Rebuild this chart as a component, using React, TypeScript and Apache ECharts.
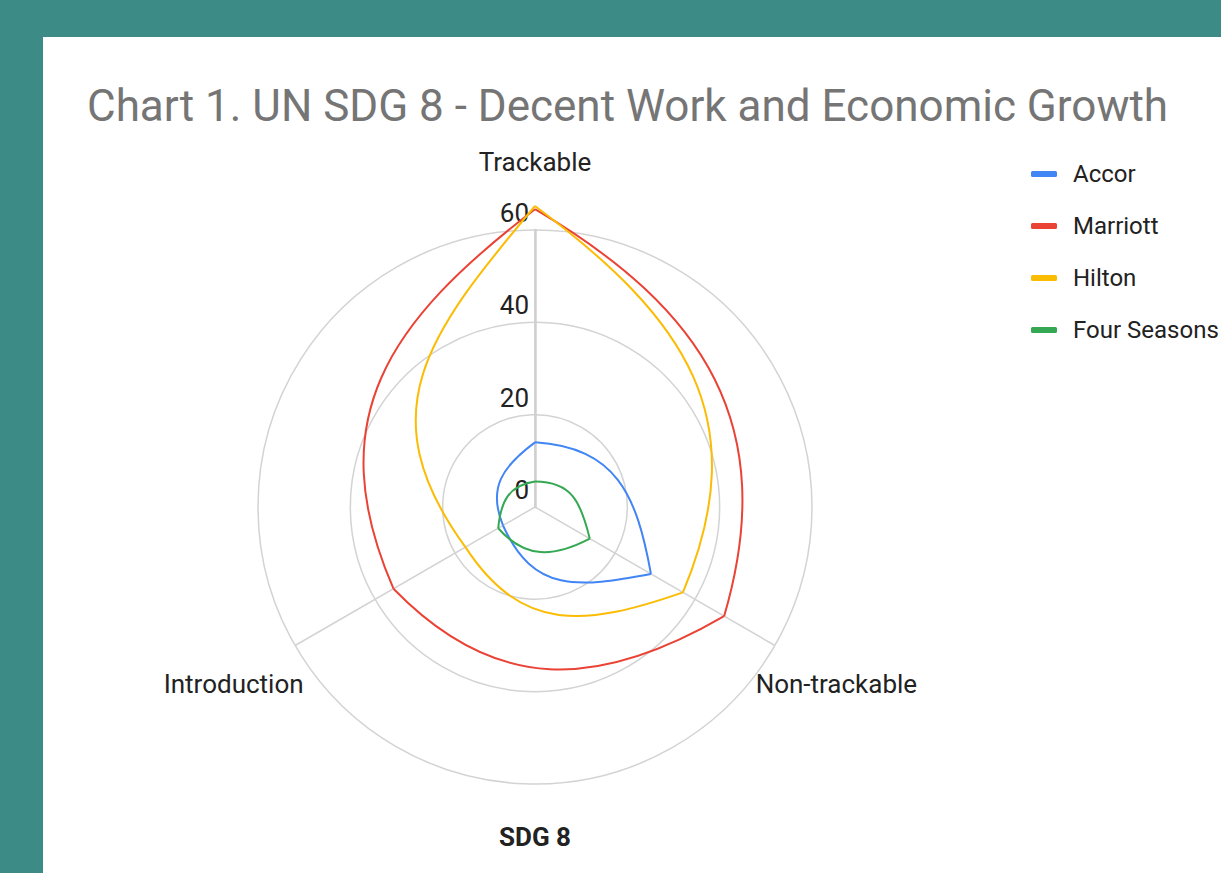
import React, { useEffect, useRef } from "react";
import * as echarts from "echarts";

// ---- data ----
const categories = ["Trackable", "Non-trackable", "Introduction"];
const seriesNames = ["Accor", "Marriott", "Hilton", "Four Seasons"];
const accor = [14, 29, 8];
const marriott = [64.5, 47.3, 35.4];
const hilton = [65.2, 37, 17.4];
const fourSeasons = [5.5, 13.7, 9.2];
const radiusMin = 0;
const radiusMax = 60;
const radiusStep = 20;
const axisTitle = "SDG 8";
const chartTitle = "Chart 1. UN SDG 8 - Decent Work and Economic Growth";

const seriesValues = [accor, marriott, hilton, fourSeasons];
const colors = ["#4285f4", "#ea4335", "#fbbc04", "#34a853"];

// ---- layout ----
const CX = 492;
const CY = 470;
const R = 277;
const LABEL_R = 348;
const LABEL_DY = 3;
const FONT = "Roboto, 'Noto Sans', Arial, sans-serif";
const DEG = Math.PI / 180;

// curve styling: each edge is a cubic bezier whose end tangents are turned
// outward from the chord (more at the end closer to the centre)
function edgeAngle(rEnd: number, rOther: number) {
  const ratio = Math.max(rEnd, 1e-3) / Math.max(rOther, 1e-3);
  return (38 - 11 * Math.tanh(Math.log(ratio))) * DEG;
}

function makeRenderItem(color: string) {
  return (params: any, api: any) => {
    const n = params.dataInsideLength;
    const i = params.dataIndexInside;
    const j = (i + 1) % n;
    const a = api.coord([api.value(0, i), api.value(1, i)]);
    const b = api.coord([api.value(0, j), api.value(1, j)]);
    const o = api.coord([0, api.value(1, i)]);
    const ra = Math.hypot(a[0] - o[0], a[1] - o[1]);
    const rb = Math.hypot(b[0] - o[0], b[1] - o[1]);
    const dx = b[0] - a[0];
    const dy = b[1] - a[1];
    const len = Math.hypot(dx, dy) || 1;
    const ux = dx / len;
    const uy = dy / len;
    let nx = uy;
    let ny = -ux;
    const mx = (a[0] + b[0]) / 2 - o[0];
    const my = (a[1] + b[1]) / 2 - o[1];
    if (nx * mx + ny * my < 0) {
      nx = -nx;
      ny = -ny;
    }
    const da = edgeAngle(ra, rb);
    const db = edgeAngle(rb, ra);
    const L = (0.42 + 0.07 * Math.abs(Math.tanh(Math.log(Math.max(ra, 1e-3) / Math.max(rb, 1e-3))))) * len;
    const c1x = a[0] + L * (Math.cos(da) * ux + Math.sin(da) * nx);
    const c1y = a[1] + L * (Math.cos(da) * uy + Math.sin(da) * ny);
    const c2x = b[0] - L * (Math.cos(db) * ux - Math.sin(db) * nx);
    const c2y = b[1] - L * (Math.cos(db) * uy - Math.sin(db) * ny);
    return {
      type: "bezierCurve",
      shape: {
        x1: a[0],
        y1: a[1],
        x2: b[0],
        y2: b[1],
        cpx1: c1x,
        cpy1: c1y,
        cpx2: c2x,
        cpy2: c2y,
      },
      style: { stroke: color, fill: "none", lineWidth: 2 },
    };
  };
}

export default function App() {
  const ref = useRef<HTMLDivElement>(null);

  useEffect(() => {
    if (!ref.current) return;
    const chart = echarts.init(ref.current, undefined, { renderer: "svg" });

    const n = categories.length;
    const labelTexts = categories.map((name, k) => {
      const ang = (90 - (360 / n) * k) * DEG;
      return {
        type: "text",
        x: CX + LABEL_R * Math.cos(ang),
        y: CY - LABEL_R * Math.sin(ang) + LABEL_DY,
        style: {
          text: name,
          fontSize: 26,
          fontFamily: FONT,
          fill: "#222222",
          align: "center",
          verticalAlign: "middle",
        },
      };
    });

    chart.setOption({
      animation: false,
      backgroundColor: "#ffffff",
      title: {
        text: chartTitle,
        left: 39,
        top: 42,
        textStyle: {
          fontSize: 44,
          fontWeight: "normal",
          color: "#757575",
          fontFamily: FONT,
        },
      },
      legend: {
        data: seriesNames,
        orient: "vertical",
        left: 988,
        top: 125,
        padding: 0,
        itemWidth: 26,
        itemHeight: 6,
        itemGap: 28,
        icon: "roundRect",
        textStyle: {
          fontSize: 24,
          color: "#222222",
          fontFamily: FONT,
          padding: [0, 0, 0, 11],
        },
      },
      polar: { center: [CX, CY], radius: R },
      angleAxis: {
        type: "value",
        min: 0,
        max: categories.length,
        interval: 1,
        startAngle: 90,
        clockwise: true,
        axisLine: { show: false },
        axisTick: { show: false },
        axisLabel: { show: false },
        splitLine: { show: true, lineStyle: { color: "#d3d3d3", width: 1.5 } },
      },
      radiusAxis: {
        type: "value",
        min: radiusMin,
        max: radiusMax,
        interval: radiusStep,
        axisLine: { show: true, lineStyle: { color: "#cfcfcf", width: 2.5 } },
        axisTick: { show: false },
        axisLabel: {
          margin: 6,
          verticalAlign: "bottom",
          padding: [0, 0, 4, 0],
          fontSize: 26,
          color: "#222222",
          fontFamily: FONT,
        },
        splitLine: { show: true, lineStyle: { color: "#d3d3d3", width: 1.5 } },
      },
      graphic: [
        ...labelTexts,
        {
          type: "text",
          x: CX,
          y: 800,
          style: {
            text: axisTitle,
            fontSize: 26,
            fontWeight: "bold",
            fontFamily: FONT,
            fill: "#222222",
            align: "center",
            verticalAlign: "middle",
          },
        },
      ],
      series: seriesNames.map((name, s) => ({
        name,
        type: "custom",
        coordinateSystem: "polar",
        encode: { radius: 0, angle: 1 },
        itemStyle: { color: colors[s] },
        renderItem: makeRenderItem(colors[s]),
        data: seriesValues[s].map((v, k) => [v, k]),
        z: 5,
      })),
    });

    return () => chart.dispose();
  }, []);

  return (
    <div
      style={{
        position: "fixed",
        left: 0,
        top: 0,
        width: 1221,
        height: 873,
        background: "#3d8b87",
        overflow: "hidden",
      }}
    >
      <div
        ref={ref}
        style={{
          position: "absolute",
          left: 43,
          top: 37,
          width: 1178,
          height: 836,
          background: "#ffffff",
        }}
      />
    </div>
  );
}
